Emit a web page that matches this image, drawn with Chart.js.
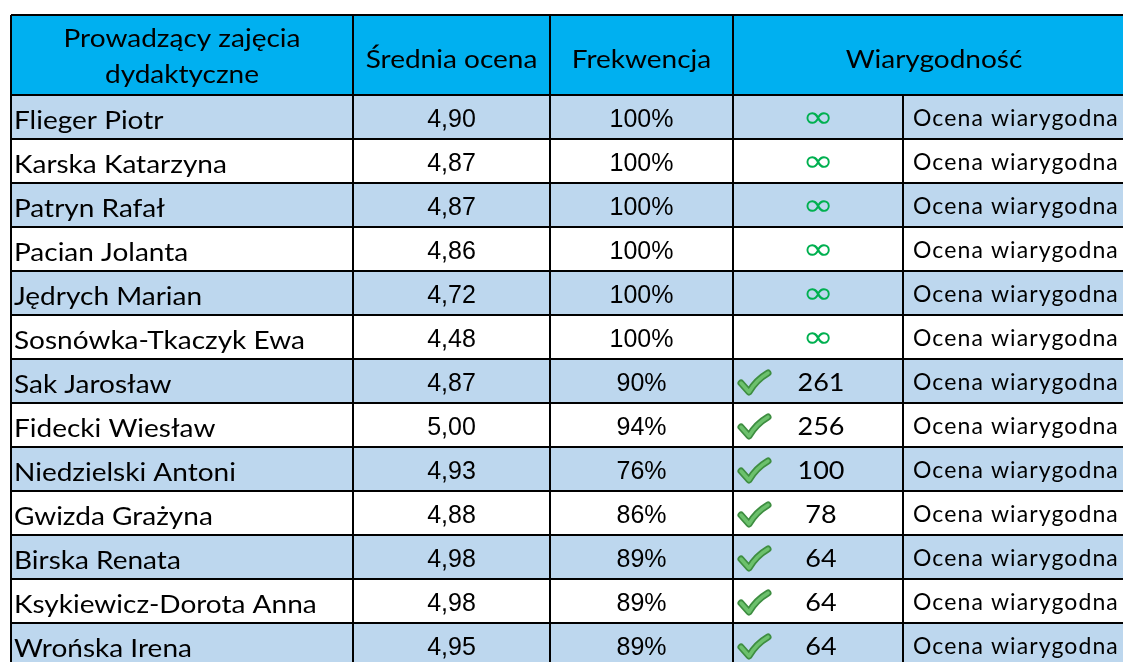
<!DOCTYPE html>
<html lang="pl">
<head>
    <meta charset="UTF-8">
    <title>Ocena prowadzących</title>
    <style>
        html, body { margin: 0; padding: 0; background: #fff; overflow: hidden; }
        .wrap { position: relative; width: 1123px; height: 667px; }
    </style>
    <script src="https://cdn.jsdelivr.net/npm/chart.js"></script>
</head>
<body>
    <div class="wrap"><canvas id="tabela"></canvas></div>
    <script>
        // dane z tabeli
        const prowadzacy = [
            'Flieger Piotr', 'Karska Katarzyna', 'Patryn Rafał', 'Pacian Jolanta',
            'Jędrych Marian', 'Sosnówka-Tkaczyk Ewa', 'Sak Jarosław', 'Fidecki Wiesław',
            'Niedzielski Antoni', 'Gwizda Grażyna', 'Birska Renata',
            'Ksykiewicz-Dorota Anna', 'Wrońska Irena'
        ];
        const srednia = [4.90, 4.87, 4.87, 4.86, 4.72, 4.48, 4.87, 5.00, 4.93, 4.88, 4.98, 4.98, 4.95];
        const frekwencja = [100, 100, 100, 100, 100, 100, 90, 94, 76, 86, 89, 89, 89];
        const wiarygodnosc = [Infinity, Infinity, Infinity, Infinity, Infinity, Infinity, 261, 256, 100, 78, 64, 64, 64];
        const ocenaTekst = ['Ocena wiarygodna', 'Ocena wiarygodna', 'Ocena wiarygodna', 'Ocena wiarygodna',
            'Ocena wiarygodna', 'Ocena wiarygodna', 'Ocena wiarygodna', 'Ocena wiarygodna', 'Ocena wiarygodna',
            'Ocena wiarygodna', 'Ocena wiarygodna', 'Ocena wiarygodna', 'Ocena wiarygodna'];
        const naglowki = ['Prowadzący zajęcia\ndydaktyczne', 'Średnia ocena', 'Frekwencja', 'Wiarygodność'];

        // granice kolumn (w jednostkach osi x)
        const kolumny = [11, 353, 550, 733, 903, 1145];
        const gornaKrawedz = 15;

        const fontNazwy = '25px Lato';
        const fontLiczby = '25px "Liberation Sans"';
        const rozciag = 1.12; // krój węższy niż w oryginale

        function tlo(ctx) {
            return ctx.dataIndex % 2 === 0 ? '#BDD7EE' : '#FFFFFF';
        }

        function komorki(c) {
            return prowadzacy.map(() => [kolumny[c], kolumny[c + 1]]);
        }

        function tekst(ctx, s, x, y, sx) {
            ctx.save();
            ctx.translate(x, y);
            ctx.scale(sx, 1);
            ctx.fillText(s, 0, 0);
            ctx.restore();
        }

        function ptaszek(ctx, x, y) {
            ctx.save();
            ctx.lineCap = 'round';
            ctx.lineJoin = 'round';
            ctx.beginPath();
            ctx.moveTo(x + 3, y + 11);
            ctx.lineTo(x + 11, y + 20);
            ctx.quadraticCurveTo(x + 18, y + 8, x + 30, y + 1);
            ctx.strokeStyle = '#3E8E41';
            ctx.lineWidth = 7;
            ctx.stroke();
            ctx.strokeStyle = '#6CC16C';
            ctx.lineWidth = 3.5;
            ctx.stroke();
            ctx.restore();
        }

        const rysujTabele = {
            id: 'rysujTabele',
            beforeDatasetsDraw(chart) {
                const ctx = chart.ctx;
                const x = chart.scales.x;
                const top = chart.chartArea.top;
                ctx.save();
                ctx.fillStyle = '#00B0F0';
                ctx.fillRect(x.getPixelForValue(kolumny[0]), gornaKrawedz,
                    x.getPixelForValue(kolumny[5]) - x.getPixelForValue(kolumny[0]), top - gornaKrawedz);
                ctx.restore();
            },
            afterDatasetsDraw(chart) {
                const ctx = chart.ctx;
                const x = chart.scales.x;
                const y = chart.scales.y;
                const top = chart.chartArea.top;
                const band = y.getPixelForValue(1) - y.getPixelForValue(0);
                const bottom = y.getPixelForValue(prowadzacy.length - 1) + band / 2;
                const px = kolumny.map(v => x.getPixelForValue(v));

                ctx.save();
                // naglowki
                ctx.fillStyle = '#000';
                ctx.font = fontNazwy;
                ctx.textAlign = 'center';
                ctx.textBaseline = 'alphabetic';
                const l1 = naglowki[0].split('\n');
                tekst(ctx, l1[0], (px[0] + px[1]) / 2, 47, rozciag);
                tekst(ctx, l1[1], (px[0] + px[1]) / 2, 83, rozciag);
                tekst(ctx, naglowki[1], (px[1] + px[2]) / 2, 68, rozciag);
                tekst(ctx, naglowki[2], (px[2] + px[3]) / 2, 68, rozciag);
                tekst(ctx, naglowki[3], 934, 68, rozciag);

                // wiersze
                prowadzacy.forEach((nazwa, i) => {
                    const cy = y.getPixelForValue(i);
                    ctx.fillStyle = '#000';
                    ctx.textBaseline = 'alphabetic';
                    ctx.font = fontNazwy;
                    ctx.textAlign = 'left';
                    tekst(ctx, nazwa, px[0] + 3, cy + 12, rozciag);

                    ctx.font = fontLiczby;
                    ctx.textAlign = 'center';
                    ctx.fillText(srednia[i].toFixed(2).replace('.', ','), (px[1] + px[2]) / 2, cy + 10);
                    ctx.fillText(frekwencja[i] + '%', (px[2] + px[3]) / 2, cy + 10);

                    const w = wiarygodnosc[i];
                    if (w === Infinity) {
                        ctx.fillStyle = '#00B050';
                        ctx.font = '30px "DejaVu Sans"';
                        tekst(ctx, '∞', (px[3] + px[4]) / 2, cy + 10, 1.25);
                    } else {
                        ptaszek(ctx, px[3] + 5, cy - 9);
                        ctx.fillStyle = '#000';
                        ctx.font = fontNazwy;
                        tekst(ctx, String(w), (px[3] + px[4]) / 2 + 3, cy + 10, 1.08);
                    }

                    ctx.fillStyle = '#000';
                    ctx.font = '23px Lato';
                    ctx.letterSpacing = '1.1px';
                    ctx.textAlign = 'left';
                    ctx.fillText(ocenaTekst[i], px[4] + 10, cy + 9);
                    ctx.letterSpacing = '0px';
                });

                // linie siatki
                ctx.strokeStyle = '#000';
                ctx.lineWidth = 2;
                ctx.beginPath();
                ctx.moveTo(px[0], gornaKrawedz);
                ctx.lineTo(px[5], gornaKrawedz);
                for (let i = 0; i <= prowadzacy.length; i++) {
                    const ly = i === 0 ? top : y.getPixelForValue(i - 1) + band / 2;
                    ctx.moveTo(px[0], ly);
                    ctx.lineTo(px[5], ly);
                }
                [0, 1, 2, 3].forEach(c => {
                    ctx.moveTo(px[c], gornaKrawedz);
                    ctx.lineTo(px[c], bottom);
                });
                ctx.moveTo(px[4], top);
                ctx.lineTo(px[4], bottom);
                ctx.stroke();
                ctx.restore();
            }
        };

        const zestawy = [0, 1, 2, 3, 4].map(c => ({
            label: 'kolumna ' + (c + 1),
            data: komorki(c),
            backgroundColor: tlo,
            borderWidth: 0,
            grouped: false,
            barPercentage: 1,
            categoryPercentage: 1
        }));

        new Chart(document.getElementById('tabela'), {
            type: 'bar',
            data: { labels: prowadzacy, datasets: zestawy },
            options: {
                indexAxis: 'y',
                responsive: true,
                maintainAspectRatio: false,
                animation: false,
                layout: { padding: { top: 95, left: 0, right: 0, bottom: 0 } },
                plugins: { legend: { display: false }, tooltip: { enabled: false } },
                scales: {
                    x: { type: 'linear', min: 0, max: 1123, display: false },
                    y: { type: 'category', display: false, offset: true }
                }
            },
            plugins: [rysujTabele]
        });
    </script>
</body>
</html>
